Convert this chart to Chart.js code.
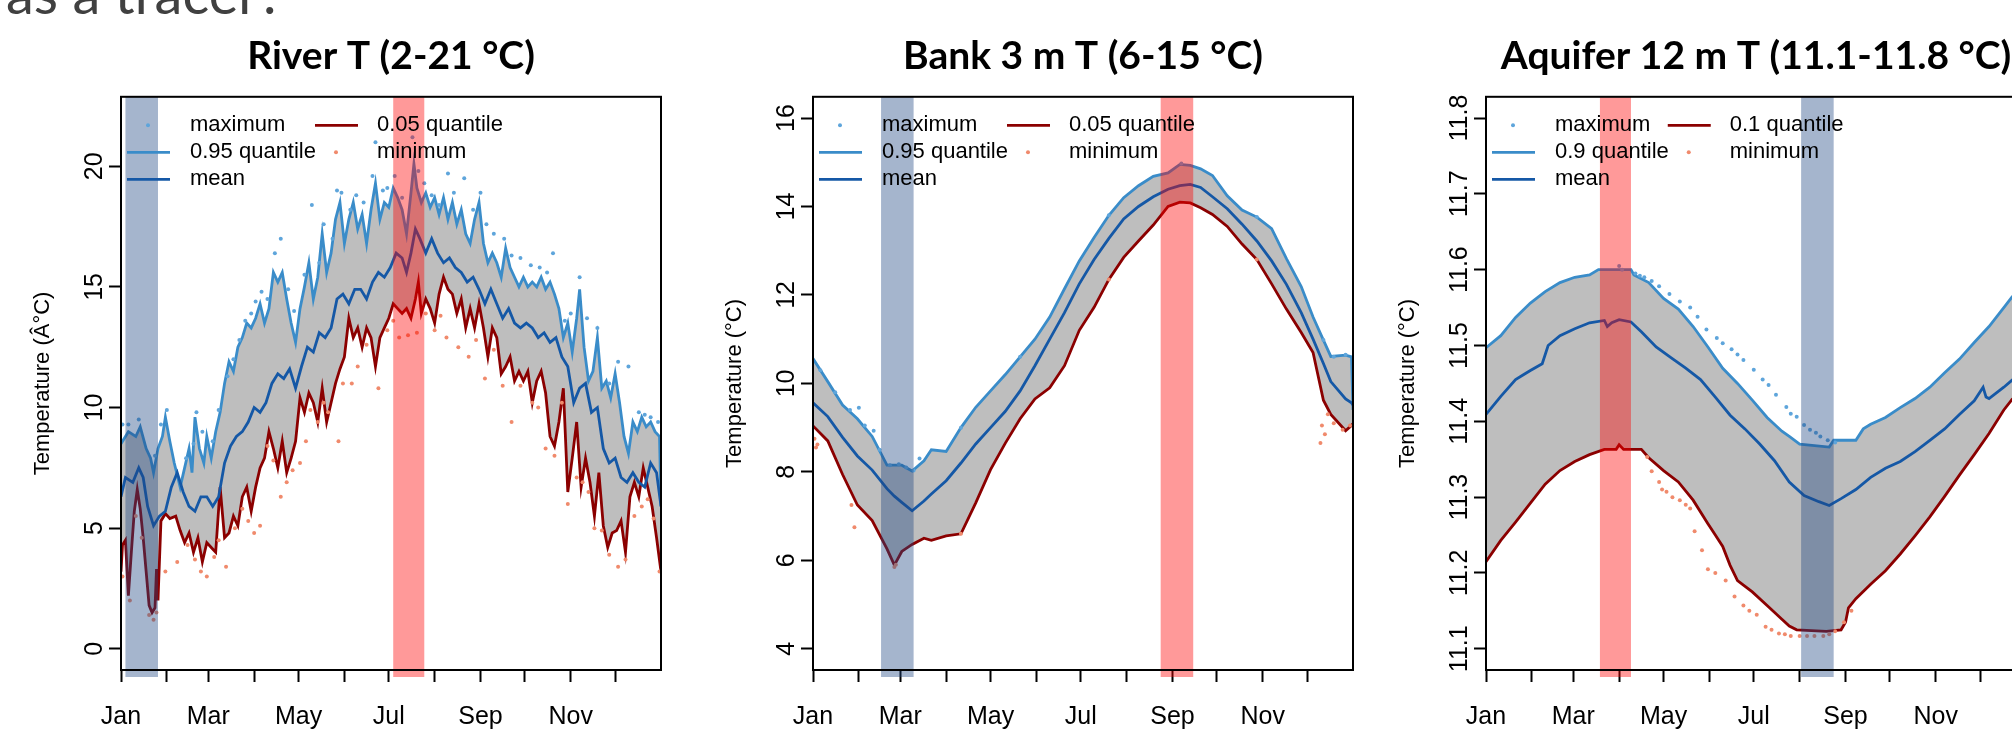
<!DOCTYPE html>
<html>
<head>
<meta charset="utf-8">
<script src="https://cdn.jsdelivr.net/npm/chart.js@4.4.1/dist/chart.umd.min.js"></script>
<style>
  body { margin: 0; width: 2012px; height: 734px; overflow: hidden; background: #fff; position: relative; }
  canvas { position: absolute; top: 0; }
  #head { position: absolute; left: 6px; top: -41px; font: 56px Lato, sans-serif; line-height: 1.2; color: #404040; white-space: nowrap; }
</style>
</head>
<body>
<div id="head">as a tracer?</div>
<canvas id="river" width="671" height="734" style="left:0px"></canvas>
<canvas id="bank" width="671" height="734" style="left:692px"></canvas>
<canvas id="aquifer" width="671" height="734" style="left:1365px"></canvas>
<script>
// x axis: day of year, ticks at each month start
const monthStart = [0, 31, 59, 90, 120, 151, 181, 212, 243, 273, 304, 334];
const monthLabels = ['Jan', '', 'Mar', '', 'May', '', 'Jul', '', 'Sep', '', 'Nov', ''];

// ---- River T ----
const riverHiDays = [0,5,10,13,17,20,22,25,28,30,33,36,40,43,46,48,50,53,56,58,61,64,67,70,73,76,79,82,85,88,91,94,97,100,103,106,109,112,115,118,121,124,127,130,133,136,139,142,145,148,151,154,157,160,163,166,169,172,175,178,181,184,187,190,193,196,198,200,203,206,209,212,215,218,221,224,227,230,233,236,239,242,245,248,251,254,257,260,263,266,269,272,275,278,281,284,287,290,293,296,299,302,305,308,310,313,316,319,322,325,328,331,334,337,340,343,346,349,352,355,358,361,364,365];
const riverHi = [8.5,9.0,8.8,9.2,8.3,7.9,7.3,8.3,8.8,9.6,8.6,7.7,6.7,7.5,8.3,7.3,9.6,8.3,7.7,8.8,7.9,9.0,9.8,11.0,11.9,11.5,12.5,12.9,13.5,13.3,13.7,14.3,13.5,14.1,15.6,15.2,15.6,14.5,13.5,12.7,14.1,15.0,16.0,14.5,15.4,17.2,15.6,16.4,17.8,18.5,16.8,17.8,18.5,17.4,18.0,16.8,18.2,19.3,17.8,18.5,18.3,19.1,18.7,18.2,17.2,18.9,20.1,19.1,18.5,18.9,18.3,18.7,18.0,18.7,17.8,18.5,17.6,18.2,17.2,16.8,17.8,18.5,16.8,16.0,16.4,16.0,15.4,16.6,15.8,15.4,15.0,15.4,15.0,15.2,15.0,15.4,14.9,15.2,14.7,14.1,12.9,13.5,12.3,13.7,14.9,12.5,11.1,11.5,12.9,10.8,11.1,10.4,11.4,10.2,8.8,8.1,9.4,9.0,9.6,9.2,9.4,9.0,8.8,5.9];
const riverMeanDays = [0,3,8,12,15,18,22,26,30,34,38,42,46,50,54,58,62,66,70,74,78,82,86,90,94,98,102,106,110,114,118,122,126,130,134,138,142,146,150,154,158,162,166,170,174,178,182,186,190,193,196,199,202,206,210,214,218,222,226,230,234,238,242,246,250,254,258,262,266,270,274,278,282,286,290,294,298,302,306,310,314,318,322,326,330,334,338,342,346,350,354,358,362,365];
const riverMean = [6.3,7.1,6.9,7.5,7.1,5.9,5.1,5.5,5.7,6.7,7.3,6.5,5.9,5.7,6.3,6.3,5.9,6.3,7.7,8.4,8.8,9.0,9.4,10.0,9.8,10.2,11.0,11.4,11.2,11.6,10.8,11.7,12.5,12.3,13.1,12.9,13.3,14.5,14.7,14.3,14.9,14.9,14.5,15.2,15.6,15.4,15.8,16.4,16.2,15.6,16.4,17.4,17.0,16.4,17.0,16.4,16.0,16.2,15.8,15.6,15.2,15.4,14.9,14.3,14.9,14.3,13.7,14.1,13.5,13.3,13.5,13.3,12.9,13.1,12.7,12.9,12.1,11.7,10.2,10.8,11.0,9.8,10.0,8.3,7.7,7.9,7.1,6.9,7.3,6.9,6.7,7.7,7.3,5.9];
const riverLoDays = [0,1,3,5,7,9,11,13,15,17,19,21,23,24,25,27,30,33,37,40,43,46,49,52,55,58,61,64,67,70,73,76,79,82,85,88,91,94,97,100,103,106,109,112,115,118,121,124,127,130,133,136,139,142,145,148,151,154,157,160,163,166,169,172,175,178,181,184,187,190,193,196,199,201,203,206,209,212,215,218,221,224,227,230,233,236,239,242,245,248,251,254,257,260,263,266,269,272,275,278,281,284,287,290,293,296,299,302,305,308,311,314,317,320,323,326,329,332,335,338,341,344,347,350,353,356,359,362,365];
const riverLo = [3.2,4.3,4.5,2.2,4.0,5.7,6.6,5.8,4.6,3.2,1.8,1.5,1.7,3.3,2.0,5.3,5.6,5.4,5.5,4.9,4.4,4.8,4.0,4.6,3.6,4.4,4.2,4.0,6.7,4.6,4.8,5.5,5.1,6.3,6.7,5.7,6.7,7.5,7.9,9.0,8.3,7.5,8.6,7.3,7.9,8.6,10.4,9.8,10.6,10.2,9.4,10.8,9.4,10.2,11.0,11.6,12.1,13.7,12.9,13.3,12.5,13.3,12.9,11.7,12.9,13.3,13.7,14.3,14.1,13.9,14.1,13.7,14.5,15.2,13.9,14.5,14.1,13.5,14.7,15.4,14.9,14.7,13.9,14.5,13.3,14.1,13.3,14.3,13.3,12.1,13.3,12.9,11.4,11.7,12.1,11.1,11.5,11.1,11.5,10.2,11.1,11.5,10.6,8.8,8.4,9.4,10.8,6.5,7.9,9.4,6.7,7.9,6.9,5.5,7.3,5.1,4.2,4.8,4.9,5.3,4.0,6.3,6.9,6.3,7.5,6.7,5.9,4.6,3.2];
const riverMaxDays = [1,5,12,23,27,31,44,49,51,55,62,66,72,76,80,84,88,91,95,99,104,108,113,117,124,129,134,137,143,146,149,155,159,164,170,172,177,180,185,190,197,201,205,210,215,221,225,232,238,243,247,252,259,264,270,277,283,288,292,300,304,310,315,322,330,336,343,350,354,358,363];
const riverMax = [9.3,9.3,9.5,8.0,9.3,9.9,7.9,8.5,9.8,9.0,8.6,9.9,11.3,12.0,12.8,13.6,13.9,14.4,14.8,14.5,16.4,17.0,14.9,14.0,15.5,18.4,16.0,17.6,17.0,19.0,18.9,18.2,18.8,18.5,19.6,21.0,19.0,19.1,19.6,18.7,21.2,19.8,19.3,18.8,18.4,19.7,18.9,19.5,18.2,18.9,17.6,17.2,17.0,16.3,16.2,15.9,15.8,15.6,16.4,13.6,13.9,15.4,13.7,13.3,11.0,11.9,11.7,9.8,9.7,9.6,9.4];
const riverMinDays = [1,6,10,14,19,22,24,30,38,45,50,54,58,63,66,71,77,82,86,90,94,99,103,108,112,116,121,125,128,133,137,140,147,150,156,160,166,174,180,184,188,194,200,206,212,216,220,228,235,240,246,252,258,264,270,278,282,287,293,298,302,308,312,316,320,325,330,336,341,347,352,356,360,364];
const riverMin = [3.0,2.0,5.5,4.6,1.4,1.2,1.5,3.2,3.6,4.3,3.7,3.2,3.0,3.8,4.5,3.4,5.0,5.8,5.3,4.8,5.1,8.4,7.8,6.3,6.9,7.4,7.7,8.6,9.9,9.4,10.2,9.8,8.6,11.0,11.0,11.7,12.6,10.8,13.2,13.6,12.9,13.0,13.1,13.9,13.2,13.8,12.9,12.5,12.1,12.8,11.2,12.4,10.9,9.4,10.9,10.2,10.0,8.3,8.0,10.2,6.0,7.1,6.9,6.5,5.0,4.9,3.9,3.4,3.7,5.5,5.9,6.2,5.4,3.2];
const riverTicks = [0, 5, 10, 15, 20];
const riverBlueBand = [3, 25];
const riverRedBand = [184, 205];

// ---- Bank 3 m T ----
const bankDays = [0,10,20,30,40,50,55,60,67,75,80,90,100,110,120,130,140,150,160,170,180,190,200,210,220,230,240,248,255,262,270,280,290,300,310,320,330,338,345,350,360,364,365];
const bankHi = [10.56,10.04,9.51,9.2,8.8,8.15,8.15,8.15,8.02,8.25,8.5,8.46,9.0,9.46,9.83,10.2,10.6,11.0,11.5,12.14,12.77,13.3,13.8,14.2,14.47,14.68,14.76,14.95,14.93,14.85,14.7,14.24,13.92,13.76,13.5,12.82,12.19,11.5,10.98,10.61,10.64,10.6,9.4];
const bankMean = [9.56,9.25,8.78,8.36,8.04,7.62,7.45,7.31,7.12,7.34,7.5,7.8,8.2,8.63,9.0,9.37,9.83,10.4,11.0,11.6,12.25,12.8,13.28,13.72,14.0,14.22,14.39,14.47,14.5,14.43,14.22,13.95,13.6,13.22,12.77,12.24,11.6,11.0,10.45,10.04,9.65,9.56,9.51];
const bankLo = [9.04,8.7,7.94,7.25,6.9,6.26,5.89,6.2,6.36,6.5,6.45,6.55,6.6,7.3,8.05,8.65,9.2,9.65,9.9,10.4,11.2,11.72,12.35,12.85,13.22,13.58,14.0,14.1,14.08,13.97,13.82,13.55,13.15,12.8,12.25,11.68,11.15,10.7,9.62,9.3,8.93,9.05,9.09];
const bankMaxDays = [5,15,25,31,35,41,45,52,58,63,68,72,100,140,200,249,300,345,352,360];
const bankMax = [10.3,9.8,9.4,9.45,9.05,8.93,8.5,8.15,8.17,8.1,8.03,8.3,9.0,10.6,13.8,14.97,13.76,10.98,10.6,10.65];
const bankMinDays = [1,2,3,26,28,55,56,100,200,300,343,344,346,348,352,358,363];
const bankMin = [8.75,8.55,8.62,7.25,6.75,5.85,5.9,6.6,12.35,12.8,8.65,9.05,8.85,9.3,9.1,8.95,9.05];
const bankTicks = [4, 6, 8, 10, 12, 14, 16];
const bankBlueBand = [46, 68];
const bankRedBand = [235, 257];

// ---- Aquifer 12 m T ----
const aqHiDays = [0,10,20,30,40,50,60,70,76,98,100,110,120,130,140,150,160,170,180,190,200,205,212,232,235,250,255,260,270,280,290,300,310,320,330,340,350,356];
const aqHi = [11.497,11.513,11.537,11.556,11.571,11.583,11.59,11.593,11.6,11.6,11.593,11.583,11.562,11.548,11.525,11.498,11.47,11.45,11.428,11.405,11.387,11.38,11.37,11.366,11.375,11.375,11.39,11.396,11.405,11.418,11.43,11.445,11.464,11.482,11.504,11.525,11.55,11.565];
const aqMeanDays = [0,10,20,25,30,38,42,50,60,70,80,82,85,90,98,105,115,125,135,145,155,165,175,185,195,205,215,225,232,240,250,260,270,280,290,300,310,320,330,336,338,340,350,356];
const aqMean = [11.409,11.433,11.455,11.461,11.467,11.476,11.5,11.513,11.522,11.53,11.533,11.525,11.53,11.534,11.531,11.518,11.498,11.484,11.47,11.455,11.432,11.408,11.39,11.37,11.348,11.32,11.302,11.294,11.289,11.298,11.31,11.326,11.338,11.347,11.36,11.375,11.39,11.409,11.427,11.445,11.432,11.43,11.445,11.455];
const aqLoDays = [0,10,20,30,40,50,60,70,80,88,90,93,105,110,120,130,140,150,155,160,165,170,180,190,200,205,210,230,240,243,245,250,260,270,280,290,300,310,320,330,340,350,356];
const aqLo = [11.215,11.243,11.267,11.292,11.317,11.335,11.347,11.356,11.363,11.363,11.369,11.363,11.363,11.352,11.335,11.32,11.296,11.265,11.25,11.235,11.21,11.19,11.175,11.157,11.139,11.13,11.125,11.123,11.125,11.135,11.154,11.166,11.185,11.203,11.225,11.249,11.274,11.301,11.329,11.356,11.384,11.415,11.43];
const aqMaxDays = [90,92,101,104,107,112,117,124,131,138,143,149,156,160,166,170,174,181,187,191,196,203,206,210,215,219,223,226,231,236];
const aqMax = [11.605,11.6,11.595,11.592,11.59,11.585,11.578,11.568,11.558,11.55,11.538,11.521,11.51,11.503,11.495,11.488,11.481,11.468,11.455,11.448,11.435,11.419,11.41,11.406,11.395,11.389,11.385,11.38,11.375,11.372];
const aqMinDays = [109,112,117,119,122,126,131,135,138,141,146,150,155,162,168,174,178,183,189,193,198,202,206,212,217,222,228,232,236,242,247];
const aqMin = [11.353,11.334,11.32,11.31,11.307,11.3,11.296,11.29,11.285,11.255,11.23,11.205,11.2,11.19,11.169,11.157,11.15,11.145,11.129,11.125,11.12,11.119,11.117,11.117,11.117,11.117,11.117,11.119,11.123,11.135,11.15];
const aqTicks = [11.1, 11.2, 11.3, 11.4, 11.5, 11.6, 11.7, 11.8];
const aqRedBand = [77, 98];
const aqBlueBand = [213, 235];

const HI_COL = '#3a8cc9', MEAN_COL = '#1558a6', LO_COL = '#8b0000';
const MAX_COL = '#5ea5db', MIN_COL = '#f08a6c', FILL_COL = '#bebebe';
const BLUE_BAND = 'rgba(30,70,130,0.4)', RED_BAND = 'rgba(255,0,0,0.4)';
const AXIS_FONT = 'Liberation Sans';

function pts(days, vals) {
  return days.map((d, i) => ({ x: d, y: vals[i] }));
}

// bands, box and R-style two column legend
const panelDeco = {
  id: 'panelDeco',
  afterDatasetsDraw(chart, args, o) {
    const { ctx, chartArea: a, scales: { x } } = chart;
    ctx.save();
    o.bands.forEach(b => {
      const x0 = x.getPixelForValue(b.range[0]);
      const x1 = x.getPixelForValue(b.range[1]);
      ctx.fillStyle = b.color;
      ctx.fillRect(x0, a.top, x1 - x0, a.bottom - a.top + 7);
    });
    ctx.restore();
  },
  afterDraw(chart) {
    const { ctx, chartArea: a } = chart;
    const ds = chart.data.datasets;
    ctx.save();
    ctx.strokeStyle = '#000';
    ctx.lineWidth = 2;
    ctx.strokeRect(a.left, a.top, a.right - a.left, a.bottom - a.top);

    ctx.font = '22px "' + AXIS_FONT + '"';
    ctx.textBaseline = 'middle';
    const rows = [28.5, 55.5, 82.5];
    const col1 = [3, 0, 1], col2 = [2, 4];
    const textX = a.left + 69;
    const widest = Math.max(...col1.map(i => ctx.measureText(ds[i].label).width));
    const c2 = textX + widest - 1;
    const item = (i, sx, y) => {
      const d = ds[i];
      if (d.showLine === false) {
        ctx.fillStyle = d.backgroundColor;
        ctx.beginPath();
        ctx.arc(sx + 21, y, 2, 0, Math.PI * 2);
        ctx.fill();
      } else {
        ctx.strokeStyle = d.borderColor;
        ctx.lineWidth = 2.8;
        ctx.beginPath();
        ctx.moveTo(sx, y);
        ctx.lineTo(sx + 43, y);
        ctx.stroke();
      }
    };
    col1.forEach((i, r) => { item(i, a.left + 6, a.top + rows[r]); ctx.fillStyle = '#000'; ctx.fillText(ds[i].label, textX, a.top + rows[r]); });
    col2.forEach((i, r) => { item(i, c2, a.top + rows[r]); ctx.fillStyle = '#000'; ctx.fillText(ds[i].label, c2 + 62, a.top + rows[r]); });
    ctx.restore();
  }
};

function makePanel(id, p) {
  const tickFont = { family: AXIS_FONT, size: 25 };
  return new Chart(document.getElementById(id), {
    type: 'line',
    data: {
      datasets: [
        { label: p.hiLabel, data: pts(p.hiDays, p.hi), borderColor: HI_COL, backgroundColor: FILL_COL,
          borderWidth: 2.8, pointRadius: 0, fill: 2, order: 5 },
        { label: 'mean', data: pts(p.meanDays, p.mean), borderColor: MEAN_COL,
          borderWidth: 2.8, pointRadius: 0, fill: false, order: 3 },
        { label: p.loLabel, data: pts(p.loDays, p.lo), borderColor: LO_COL,
          borderWidth: 2.8, pointRadius: 0, fill: false, order: 4 },
        { label: 'maximum', data: pts(p.maxDays, p.max), showLine: false, backgroundColor: MAX_COL,
          pointRadius: 2, pointBorderWidth: 0, order: 2 },
        { label: 'minimum', data: pts(p.minDays, p.min), showLine: false, backgroundColor: MIN_COL,
          pointRadius: 2, pointBorderWidth: 0, order: 1 }
      ]
    },
    options: {
      responsive: false,
      animation: false,
      events: [],
      devicePixelRatio: 1,
      layout: { padding: { left: 0, right: 10, top: 0, bottom: 0 } },
      elements: { line: { tension: 0 } },
      plugins: {
        legend: { display: false },
        tooltip: { enabled: false },
        filler: { drawTime: 'beforeDatasetsDraw' },
        title: { display: true, text: p.title, fullSize: false, color: '#000',
          font: { family: 'Lato', size: 39, weight: 'bold' }, padding: { top: 33, bottom: 17 } },
        panelDeco: { bands: p.bands }
      },
      scales: {
        x: {
          type: 'linear', min: 0, max: 365,
          afterBuildTicks: s => { s.ticks = monthStart.map(v => ({ value: v })); },
          afterFit: s => { s.height = 64; },
          grid: { drawOnChartArea: false, tickLength: 12, tickWidth: 2, tickColor: '#000' },
          border: { display: false },
          ticks: { autoSkip: false, maxRotation: 0, minRotation: 0, padding: 20, color: '#000', font: tickFont,
            callback: (v, i) => monthLabels[i] }
        },
        y: {
          type: 'linear', min: p.yMin, max: p.yMax,
          afterBuildTicks: s => { s.ticks = p.yTicks.map(v => ({ value: v })); },
          afterFit: s => { s.width = 121; },
          grid: { drawOnChartArea: false, tickLength: 12, tickWidth: 2, tickColor: '#000' },
          border: { display: false },
          ticks: { minRotation: 90, maxRotation: 90, crossAlign: 'center', padding: p.yPad, color: '#000', font: tickFont,
            callback: (v, i) => p.yTicks[i].toFixed(p.dec) },
          title: { display: true, text: p.yTitle, color: '#000', font: { family: AXIS_FONT, size: 22 },
            padding: { top: 30, bottom: 0 } }
        }
      }
    },
    plugins: [panelDeco]
  });
}

makePanel('river', {
  title: 'River T (2-21 °C)', yTitle: 'Temperature (Â°C)', hiLabel: '0.95 quantile', loLabel: '0.05 quantile',
  hiDays: riverHiDays, hi: riverHi, meanDays: riverMeanDays, mean: riverMean, loDays: riverLoDays, lo: riverLo,
  maxDays: riverMaxDays, max: riverMax, minDays: riverMinDays, min: riverMin,
  yMin: -0.88, yMax: 22.88, yTicks: riverTicks, dec: 0, yPad: 0,
  bands: [{ range: riverBlueBand, color: BLUE_BAND }, { range: riverRedBand, color: RED_BAND }]
});
makePanel('bank', {
  title: 'Bank 3 m T (6-15 °C)', yTitle: 'Temperature (°C)', hiLabel: '0.95 quantile', loLabel: '0.05 quantile',
  hiDays: bankDays, hi: bankHi, meanDays: bankDays, mean: bankMean, loDays: bankDays, lo: bankLo,
  maxDays: bankMaxDays, max: bankMax, minDays: bankMinDays, min: bankMin,
  yMin: 3.52, yMax: 16.48, yTicks: bankTicks, dec: 0, yPad: 0,
  bands: [{ range: bankBlueBand, color: BLUE_BAND }, { range: bankRedBand, color: RED_BAND }]
});
makePanel('aquifer', {
  title: 'Aquifer 12 m T (11.1-11.8 °C)', yTitle: 'Temperature (°C)', hiLabel: '0.9 quantile', loLabel: '0.1 quantile',
  hiDays: aqHiDays, hi: aqHi, meanDays: aqMeanDays, mean: aqMean, loDays: aqLoDays, lo: aqLo,
  maxDays: aqMaxDays, max: aqMax, minDays: aqMinDays, min: aqMin,
  yMin: 11.072, yMax: 11.828, yTicks: aqTicks, dec: 1, yPad: -10,
  bands: [{ range: aqRedBand, color: RED_BAND }, { range: aqBlueBand, color: BLUE_BAND }]
});
</script>
</body>
</html>
